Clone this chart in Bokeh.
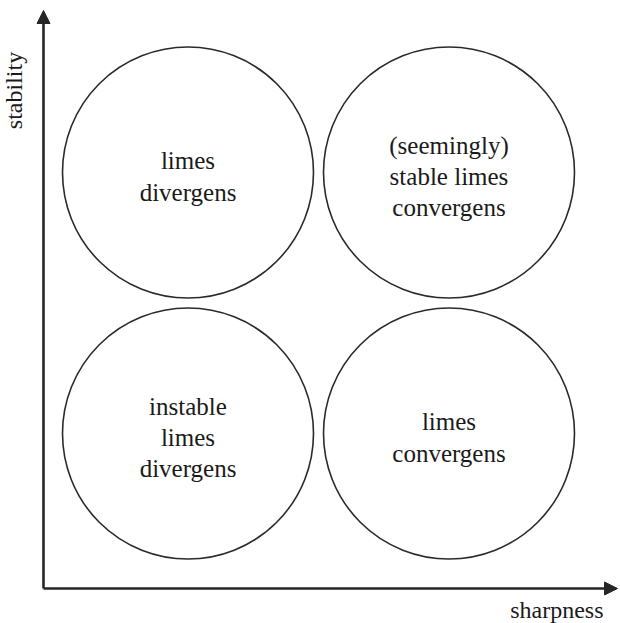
import math
from bokeh.plotting import figure
from bokeh.models import Range1d, Arrow, NormalHead, ColumnDataSource, Label
from bokeh.core.properties import value
from bokeh.embed import file_html
from bokeh.resources import INLINE

# ---- data ----
sharpness = [0, 1, 0, 1]
stability = [1, 1, 0, 0]
labels = [
    "limes\ndivergens",
    "(seemingly)\nstable limes\nconvergens",
    "instable\nlimes\ndivergens",
    "limes\nconvergens",
]
x_title = "sharpness"
y_title = "stability"

# ---- layout ----
W, H = 620, 623
U = 261.0                      # pixels per level step
x0 = -187.5 / U
y1 = 1 + 172 / U

def px(v):
    return x0 + v / U

def py(v):
    return y1 - v / U

p = figure(width=W, height=H, output_backend="svg", toolbar_location=None,
           x_range=Range1d(x0, x0 + W / U), y_range=Range1d(y1 - H / U, y1),
           x_axis_type=None, y_axis_type=None, min_border=0)
p.grid.visible = False
p.outline_line_color = None
p.background_fill_color = "white"
p.border_fill_color = "white"

FONT = "Liberation Serif"
TXT = "#1a1a1a"

src = ColumnDataSource(dict(x=sharpness, y=stability, t=labels))
p.circle(x="x", y="y", radius=125.5 / U, source=src, fill_color=None,
         line_color="#2a2a2a", line_width=1.6)
p.text(x="x", y="y", text="t", source=src, text_font=value(FONT),
       text_font_size="25px", text_align="center", text_baseline="middle",
       text_color=TXT, text_line_height=1.16, y_offset=4)

AX = "#262626"
p.add_layout(Arrow(end=NormalHead(size=13, fill_color=AX, line_color=AX),
                   x_start=px(43), y_start=py(588), x_end=px(43), y_end=py(10),
                   line_width=2.6, line_color=AX))
p.add_layout(Arrow(end=NormalHead(size=13, fill_color=AX, line_color=AX),
                   x_start=px(43), y_start=py(588), x_end=px(617), y_end=py(588),
                   line_width=2.6, line_color=AX))

p.add_layout(Label(x=px(603), y=py(609), text=x_title, text_font=FONT,
                   text_font_size="24px", text_align="right",
                   text_baseline="alphabetic", text_color=TXT))
p.add_layout(Label(x=px(13), y=py(90), text=y_title, text_font=FONT,
                   text_font_size="24px", text_align="center", angle=math.pi / 2,
                   text_baseline="alphabetic", text_color=TXT))

open("out.html", "w").write(file_html(p, INLINE))
